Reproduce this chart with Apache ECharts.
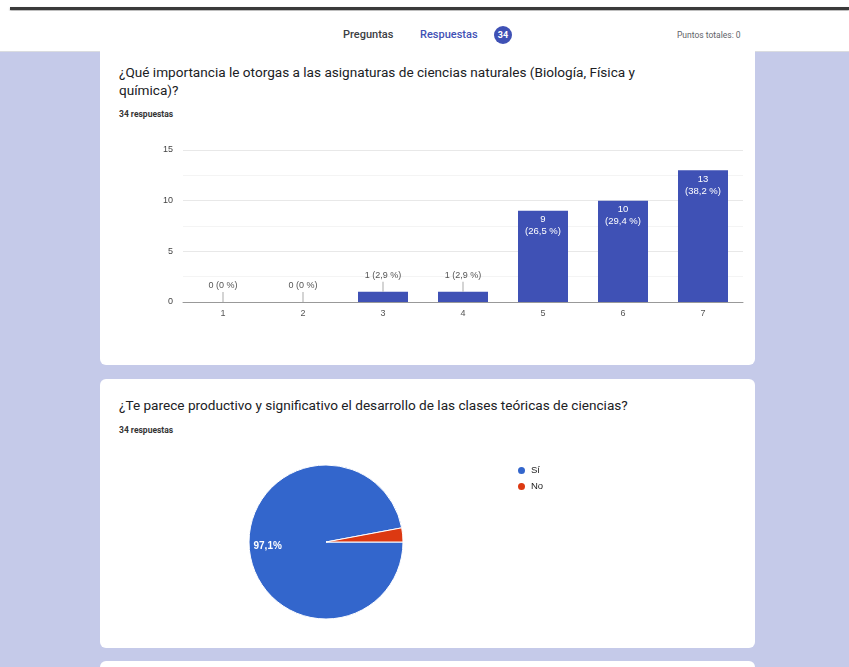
<!DOCTYPE html>
<html>
<head>
<meta charset="utf-8">
<script src="https://cdn.jsdelivr.net/npm/echarts@6/dist/echarts.min.js"></script>
<style>
  html, body { margin: 0; padding: 0; width: 849px; height: 667px; overflow: hidden; background: #fff; font-family: Roboto, "Noto Sans", sans-serif; }
  .abs { position: absolute; }
  #topbar { left: 10px; right: 0; top: 7px; height: 3px; background: #3a3a3a; box-shadow: 0 1px 2px rgba(0,0,0,0.35); }
  #header { left: 0; right: 0; top: 11px; height: 40px; background: #fff; border-bottom: 1px solid #dadce0; }
  #page { left: 0; right: 0; top: 52px; bottom: 0; background: #c5cae9; }
  .tab { top: 28px; font-size: 11px; font-weight: 500; color: #3c4043; white-space: nowrap; }
  #badge { left: 494px; top: 26px; width: 18px; height: 18px; border-radius: 50%; background: #3f51b5; color: #fff; font-size: 9px; font-weight: bold; text-align: center; line-height: 18px; }
  #underline { left: 410px; top: 47px; width: 105px; height: 3px; background: #3f51b5; border-radius: 2px 2px 0 0; }
  .card { left: 100px; width: 655px; background: #fff; border-radius: 6px; }
  .qtitle { left: 119px; width: 530px; font-size: 13.6px; line-height: 18px; color: #202124; }
  .count { left: 119px; font-size: 8.5px; font-weight: bold; color: #333; }
</style>
</head>
<body>
<div id="topbar" class="abs"></div>
<div id="header" class="abs"></div>
<div id="page" class="abs"></div>
<div class="abs tab" style="left:343px;">Preguntas</div>
<div class="abs tab" style="left:420px; color:#3f51b5;">Respuestas</div>
<div id="badge" class="abs">34</div>
<div id="underline" class="abs"></div>
<div class="abs" style="left:677px; top:30px; font-size:8.5px; color:#5f6368;">Puntos totales: 0</div>

<div class="abs card" style="top:44px; height:321px;"></div>
<div class="abs card" style="top:379px; height:269px;"></div>
<div class="abs card" style="top:661px; height:40px;"></div>

<div class="abs qtitle" style="top:63px;">¿Qué importancia le otorgas a las asignaturas de ciencias naturales (Biología, Física y química)?</div>
<div class="abs count" style="top:109px;">34 respuestas</div>
<div id="barChart" class="abs" style="left:100px; top:135px; width:655px; height:205px;"></div>

<div class="abs qtitle" style="top:396px; width:620px;">¿Te parece productivo y significativo el desarrollo de las clases teóricas de ciencias?</div>
<div class="abs count" style="top:425px;">34 respuestas</div>
<div id="pieChart" class="abs" style="left:100px; top:440px; width:655px; height:205px;"></div>

<script>
  // pregunta 1: escala 1-7
  var categories = ['1', '2', '3', '4', '5', '6', '7'];
  var counts = [0, 0, 1, 1, 9, 10, 13];
  var percents = ['0 %', '0 %', '2,9 %', '2,9 %', '26,5 %', '29,4 %', '38,2 %'];
  var yTicks = [0, 5, 10, 15];

  // pregunta 2: Sí / No
  var pieNames = ['Sí', 'No'];
  var pieValues = [33, 1];
  var pieLabels = ['97,1%', '2,9%'];

  var labelFont = '"Liberation Sans", Arial, sans-serif';

  var barData = counts.map(function (v, i) {
    var item = { value: v };
    if (v >= 5) {
      item.label = {
        show: true,
        position: 'insideTop',
        distance: 3,
        color: '#fff',
        fontSize: 9.5,
        lineHeight: 12,
        fontFamily: labelFont,
        formatter: v + '\n(' + percents[i] + ')'
      };
    } else {
      item.label = {
        show: true,
        position: 'top',
        distance: 0,
        formatter: '{t|' + v + ' (' + percents[i] + ')}\n{s|}',
        rich: {
          t: { fontSize: 9, color: '#555', fontFamily: labelFont, lineHeight: 12 },
          s: { width: 1, height: 10, backgroundColor: '#aaa' }
        }
      };
    }
    return item;
  });

  var barChart = echarts.init(document.getElementById('barChart'));
  barChart.setOption({
    animation: false,
    grid: { left: 83, right: 12, top: 15, bottom: 38 },
    xAxis: {
      type: 'category',
      data: categories,
      axisTick: { show: false },
      axisLine: { lineStyle: { color: '#999', width: 1 } },
      axisLabel: { fontSize: 9, color: '#555', margin: 7, fontFamily: labelFont }
    },
    yAxis: {
      type: 'value',
      min: yTicks[0],
      max: yTicks[yTicks.length - 1],
      interval: 5,
      axisLabel: { fontSize: 9, color: '#444', margin: 10, fontFamily: labelFont },
      splitLine: { lineStyle: { color: '#e8e8e8' } },
      minorTick: { show: false, splitNumber: 2 },
      minorSplitLine: { show: true, lineStyle: { color: '#f4f4f4' } }
    },
    series: [{
      type: 'bar',
      data: barData,
      barWidth: 50,
      itemStyle: { color: '#3f51b5' }
    }]
  });

  var pieChart = echarts.init(document.getElementById('pieChart'));
  pieChart.setOption({
    animation: false,
    color: ['#3366cc', '#dc3912'],
    legend: {
      orient: 'vertical',
      left: 411,
      top: 20,
      icon: 'circle',
      itemWidth: 9,
      itemHeight: 9,
      itemGap: 5,
      textStyle: { fontSize: 9.5, color: '#222', fontFamily: labelFont }
    },
    series: [{
      type: 'pie',
      center: [226, 102],
      radius: 77,
      startAngle: 0,
      clockwise: true,
      itemStyle: { borderColor: '#fff', borderWidth: 1 },
      label: {
        position: 'inside',
        color: '#fff',
        fontSize: 10,
        fontWeight: 'bold',
        fontFamily: labelFont,
        padding: [0, 34, 0, 0],
        formatter: function (p) { return pieLabels[p.dataIndex]; }
      },
      labelLine: { show: false },
      data: pieNames.map(function (n, i) {
        var d = { name: n, value: pieValues[i] };
        if (i > 0) d.label = { show: false };
        return d;
      })
    }]
  });
</script>
</body>
</html>
